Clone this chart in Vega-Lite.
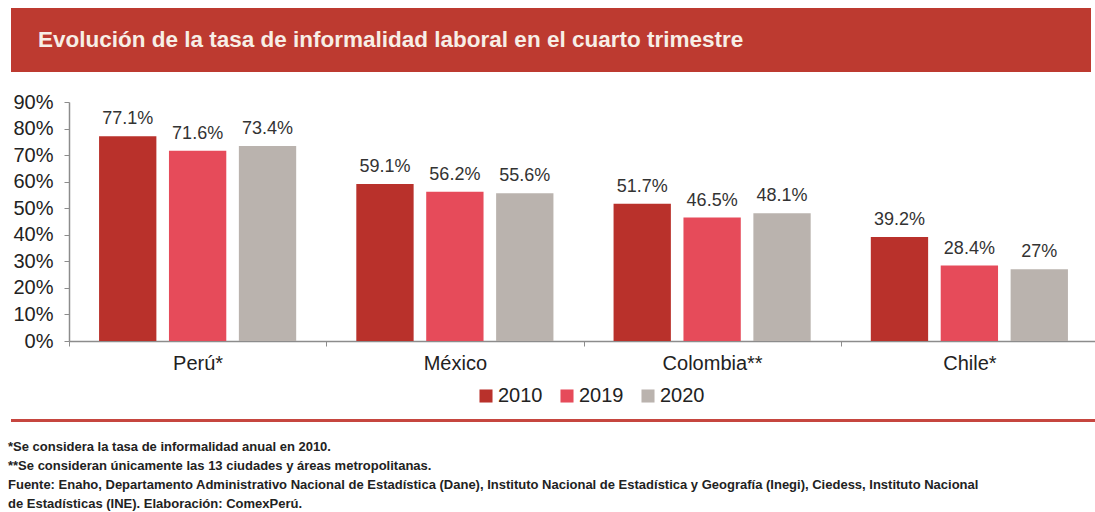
{
  "$schema": "https://vega.github.io/schema/vega-lite/v6.json",
  "background": "white",
  "padding": {"left": 8, "top": 8, "right": 0, "bottom": 0},
  "spacing": 8,
  "resolve": {"legend": {"color": "independent"}},
  "config": {
    "font": "Liberation Sans",
    "view": {"stroke": null}
  },
  "datasets": {
    "tasa": [
      {"pais": "Perú*", "anio": "2010", "v": 0.771},
      {"pais": "Perú*", "anio": "2019", "v": 0.716},
      {"pais": "Perú*", "anio": "2020", "v": 0.734},
      {"pais": "México", "anio": "2010", "v": 0.591},
      {"pais": "México", "anio": "2019", "v": 0.562},
      {"pais": "México", "anio": "2020", "v": 0.556},
      {"pais": "Colombia**", "anio": "2010", "v": 0.517},
      {"pais": "Colombia**", "anio": "2019", "v": 0.465},
      {"pais": "Colombia**", "anio": "2020", "v": 0.481},
      {"pais": "Chile*", "anio": "2010", "v": 0.392},
      {"pais": "Chile*", "anio": "2019", "v": 0.284},
      {"pais": "Chile*", "anio": "2020", "v": 0.27}
    ],
    "vacio": [{}]
  },
  "vconcat": [
    {
      "width": 1080,
      "height": 64,
      "view": {"fill": "#BD3A30", "stroke": null},
      "data": {"name": "vacio"},
      "mark": {"type": "text", "text": ""},
      "encoding": {
        "x": {"datum": 0, "type": "quantitative", "axis": {"domain": false, "ticks": false, "labels": false, "grid": false, "title": null, "minExtent": 12, "maxExtent": 12}}
      },
      "title": {
        "text": "Evolución de la tasa de informalidad laboral en el cuarto trimestre",
        "orient": "top",
        "anchor": "start",
        "frame": "group",
        "offset": -61,
        "dx": 27,
        "baseline": "alphabetic",
        "color": "#F7EEE6",
        "fontSize": 22.5,
        "fontWeight": "bold",
        "font": "Liberation Sans"
      }
    },
    {
      "width": 1087,
      "height": 239,
      "data": {"name": "tasa"},
      "encoding": {
        "x": {
          "field": "pais",
          "type": "nominal",
          "sort": ["Perú*", "México", "Colombia**", "Chile*"],
          "scale": {"paddingInner": 0, "paddingOuter": 0, "range": [58, 1087]},
          "axis": {
            "title": null,
            "labelAngle": 0,
            "labelFontSize": 20,
            "labelColor": "#222222",
            "labelPadding": 7,
            "tickBand": "extent",
            "domainColor": "#8C8C8C",
            "tickColor": "#8C8C8C",
            "domainWidth": 1.5,
            "tickSize": 5
          }
        },
        "xOffset": {
          "field": "anio",
          "type": "nominal",
          "scale": {"paddingInner": 0.18, "paddingOuter": 0.43}
        },
        "y": {
          "field": "v",
          "type": "quantitative",
          "scale": {"domain": [0, 0.9]},
          "axis": {
            "title": null,
            "offset": -58,
            "format": ".0%",
            "values": [0, 0.1, 0.2, 0.3, 0.4, 0.5, 0.6, 0.7, 0.8, 0.9],
            "grid": false,
            "labelFontSize": 20,
            "labelColor": "#222222",
            "labelPadding": 11,
            "domainColor": "#8C8C8C",
            "tickColor": "#8C8C8C",
            "domainWidth": 1.5,
            "tickSize": 5
          }
        }
      },
      "layer": [
        {
          "mark": {"type": "bar"},
          "encoding": {
            "color": {
              "field": "anio",
              "type": "nominal",
              "scale": {"domain": ["2010", "2019", "2020"], "range": ["#B9312B", "#E64B5A", "#BAB3AE"]},
              "legend": {
                "title": null,
                "orient": "none",
                "legendX": 465,
                "legendY": 284,
                "direction": "horizontal",
                "symbolType": "square",
                "symbolSize": 170,
                "symbolStrokeWidth": 0,
                "labelFontSize": 20,
                "labelColor": "#222222",
                "columnPadding": 14,
                "labelOffset": 2
              }
            }
          }
        },
        {
          "mark": {"type": "text", "baseline": "bottom", "dy": -8, "fontSize": 18, "color": "#333333"},
          "encoding": {
            "text": {"field": "v", "type": "quantitative", "format": ".3~%"}
          }
        }
      ]
    },
    {
      "width": 1087,
      "height": 3,
      "view": {"fill": "#C6463F", "stroke": null},
      "data": {"name": "vacio"},
      "mark": {"type": "text", "text": ""},
      "title": {
        "text": [
          "*Se considera la tasa de informalidad anual en 2010.",
          "**Se consideran únicamente las 13 ciudades y áreas metropolitanas.",
          "Fuente: Enaho, Departamento Administrativo Nacional de Estadística (Dane), Instituto Nacional de Estadística y Geografía (Inegi), Ciedess, Instituto Nacional",
          "de Estadísticas (INE). Elaboración: ComexPerú."
        ],
        "orient": "bottom",
        "anchor": "start",
        "frame": "group",
        "offset": 15,
        "dx": -3,
        "lineHeight": 19,
        "fontSize": 13,
        "fontWeight": "bold",
        "font": "Liberation Sans",
        "color": "#222222"
      }
    }
  ]
}
